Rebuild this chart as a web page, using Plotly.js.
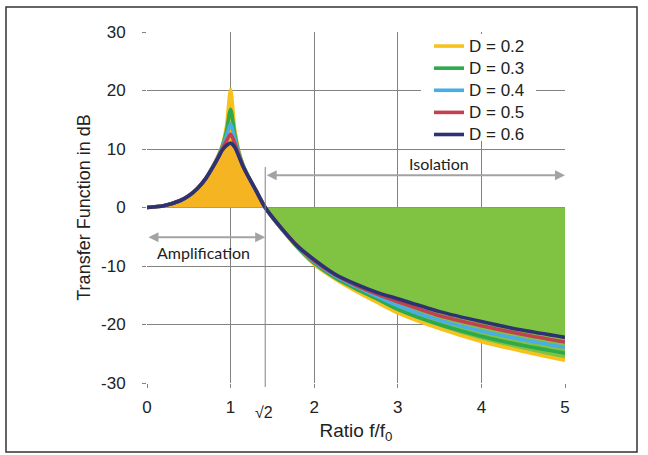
<!DOCTYPE html>
<html>
<head>
<meta charset="utf-8">
<script src="https://cdn.plot.ly/plotly-3.0.1.min.js"></script>
<style>
  html, body { margin: 0; padding: 0; background: #ffffff; }
  #chart { width: 648px; height: 455px; }
</style>
</head>
<body>
<div id="chart"></div>
<script>
// ---- data ----
const ratio = [0, 0.2, 0.4, 0.5, 0.6, 0.7, 0.8, 0.85, 0.9, 0.95, 1.0, 1.05, 1.1, 1.15, 1.2, 1.3, 1.414, 1.6, 1.8, 2.0, 2.25, 2.5, 2.75, 3.0, 3.5, 4.0, 4.5, 5.0];

const seriesNames = ["D = 0.2", "D = 0.3", "D = 0.4", "D = 0.5", "D = 0.6"];

const dB_D02 = [0, 0.3, 1.2, 2.0, 3.2, 4.9, 7.4, 8.8, 10.6, 13.8, 20.2, 13.3, 9.6, 7.3, 5.7, 3.0, 0, -3.5, -6.9, -9.7, -12.2, -14.3, -16.2, -18.0, -20.7, -22.9, -24.6, -26.1];
const dB_D03 = [0, 0.3, 1.2, 2.0, 3.2, 4.9, 7.3, 8.7, 10.4, 13.0, 16.8, 12.5, 9.3, 7.2, 5.6, 3.0, 0, -3.5, -6.8, -9.5, -12.0, -13.9, -15.6, -17.4, -20.0, -22.0, -23.6, -24.9];
const dB_D04 = [0, 0.3, 1.2, 2.0, 3.2, 4.9, 7.3, 8.6, 10.2, 12.2, 14.3, 11.8, 9.1, 7.1, 5.6, 3.0, 0, -3.5, -6.7, -9.3, -11.7, -13.5, -15.2, -16.8, -19.3, -21.1, -22.6, -23.9];
const dB_D05 = [0, 0.3, 1.2, 2.0, 3.2, 4.9, 7.2, 8.5, 10.0, 11.4, 12.5, 11.0, 8.9, 7.0, 5.6, 3.0, 0, -3.4, -6.6, -9.1, -11.5, -13.3, -14.8, -16.1, -18.5, -20.2, -21.7, -23.0];
const dB_D06 = [0, 0.3, 1.2, 2.0, 3.2, 4.9, 7.2, 8.5, 9.8, 10.6, 11.0, 10.3, 8.7, 7.0, 5.6, 3.0, 0, -3.4, -6.6, -8.9, -11.4, -13.1, -14.5, -15.6, -17.8, -19.5, -21.0, -22.2];

const xTickVals = [0, 1, 2, 3, 4, 5];
const xTickText = ["0", "1", "2", "3", "4", "5"];
const yTickVals = [-30, -20, -10, 0, 10, 20, 30];
const yTickText = ["-30", "-20", "-10", "0", "10", "20", "30"];
const crossover = 1.414;           // f/f0 = sqrt(2)
const crossoverLabel = "√2";

// ---- styling ----
const lineColors = ["#F7C11E", "#2DAA4B", "#49AEE6", "#C2404F", "#2D3272"];
const ampFill = "#F5B523";
const isoFill = "#80C342";
const gridColor = "#828282";
const allSeries = [dB_D02, dB_D03, dB_D04, dB_D05, dB_D06];

// fill regions (under the D = 0.2 curve)
const ampX = [], ampY = [], isoX = [], isoY = [];
ratio.forEach((r, i) => {
  if (r <= crossover) { ampX.push(r); ampY.push(dB_D02[i]); }
  if (r >= crossover) { isoX.push(r); isoY.push(dB_D02[i]); }
});

const traces = [
  { x: ampX, y: ampY, type: "scatter", mode: "lines", fill: "tozeroy", fillcolor: ampFill,
    line: { width: 0, shape: "spline", smoothing: 0.7 }, showlegend: false, hoverinfo: "skip" },
  { x: isoX, y: isoY, type: "scatter", mode: "lines", fill: "tozeroy", fillcolor: isoFill,
    line: { width: 0, shape: "spline", smoothing: 0.7 }, showlegend: false, hoverinfo: "skip" }
];
allSeries.forEach((ys, k) => {
  traces.push({
    x: ratio, y: ys, type: "scatter", mode: "lines",
    name: '<span style="font-size:17px">' + seriesNames[k] + '</span>',
    line: { color: lineColors[k], width: 3.6, shape: "spline", smoothing: 0.7 }
  });
});

const W = 418, H = 351, L = 147, T = 32;
function px(p) { return (p - L) / W; }       // paper x from pixel
function py(p) { return (T + H - p) / H; }   // paper y from pixel

const arrowColor = "#A3A3A3";
const layout = {
  width: 648, height: 455,
  margin: { l: L, r: 648 - L - W, t: T, b: 455 - T - H },
  paper_bgcolor: "#ffffff", plot_bgcolor: "#ffffff",
  font: { family: "Liberation Sans, Arial, sans-serif", color: "#222222", size: 17 },
  showlegend: true,
  legend: {
    x: px(429), y: py(30), xanchor: "left", yanchor: "top",
    bgcolor: "rgba(0,0,0,0)", borderwidth: 0,
    font: { family: "Liberation Sans, Arial, sans-serif", size: 14.7, color: "#222222" },
    traceorder: "normal", tracegroupgap: 0
  },
  xaxis: {
    range: [0, 5], tickvals: xTickVals, ticktext: xTickText,
    showgrid: true, gridcolor: gridColor, gridwidth: 1,
    zeroline: false, showline: false,
    ticks: "outside", ticklen: 4, tickcolor: gridColor,
    tickfont: { size: 17 }, ticklabelstandoff: 5,
    title: { text: "Ratio f/f<sub>0</sub>", font: { size: 19 }, standoff: 7 },
    fixedrange: true
  },
  yaxis: {
    range: [-30, 30], tickvals: yTickVals, ticktext: yTickText,
    showgrid: true, gridcolor: gridColor, gridwidth: 1,
    zeroline: true, zerolinecolor: gridColor, zerolinewidth: 1, showline: false,
    ticks: "outside", ticklen: 4, tickcolor: gridColor,
    tickfont: { size: 17 }, ticklabelstandoff: 13,
    title: { text: "Transfer Function in dB", font: { size: 18 }, standoff: 5 },
    fixedrange: true
  },
  shapes: [
    // white backing of the legend (hides grid lines, keeps the top frame line)
    { type: "rect", xref: "paper", yref: "paper", x0: px(421), x1: px(536), y0: py(141), y1: py(34),
      line: { width: 0 }, fillcolor: "#ffffff", layer: "above" },
    // vertical line at sqrt(2)
    { type: "line", xref: "x", yref: "paper", x0: crossover, x1: crossover, y0: -4 / H, y1: py(167),
      line: { color: gridColor, width: 1 }, layer: "above" },
    // outer frame
    { type: "rect", xref: "paper", yref: "paper", x0: px(6), x1: px(637), y0: py(452), y1: py(7),
      line: { color: "#333333", width: 1.5 }, fillcolor: "rgba(0,0,0,0)" }
  ],
  annotations: [
    { x: crossover, y: -5.1, ax: 0, ay: -5.1, xref: "x", yref: "y", axref: "x", ayref: "y",
      text: "", showarrow: true, arrowhead: 2, arrowside: "end+start", arrowsize: 1, arrowwidth: 2,
      arrowcolor: arrowColor, standoff: 0, startstandoff: 0 },
    { x: 5, y: 5.5, ax: crossover, ay: 5.5, xref: "x", yref: "y", axref: "x", ayref: "y",
      text: "", showarrow: true, arrowhead: 2, arrowside: "end+start", arrowsize: 1, arrowwidth: 2,
      arrowcolor: arrowColor, standoff: 0, startstandoff: 0 },
    { x: 0.68, y: -7.7, xref: "x", yref: "y", text: "Amplification", showarrow: false,
      font: { family: "Lato, Open Sans, sans-serif", size: 16, color: "#222222" } },
    { x: 3.49, y: 7.5, xref: "x", yref: "y", text: "Isolation", showarrow: false,
      font: { family: "Lato, Open Sans, sans-serif", size: 16, color: "#222222" } },
    { x: crossover - 0.02, y: py(413), xref: "x", yref: "paper", text: crossoverLabel, showarrow: false,
      yanchor: "middle", font: { size: 16, color: "#222222" } }
  ]
};

Plotly.newPlot("chart", traces, layout, { displayModeBar: false, staticPlot: true });
</script>
</body>
</html>
